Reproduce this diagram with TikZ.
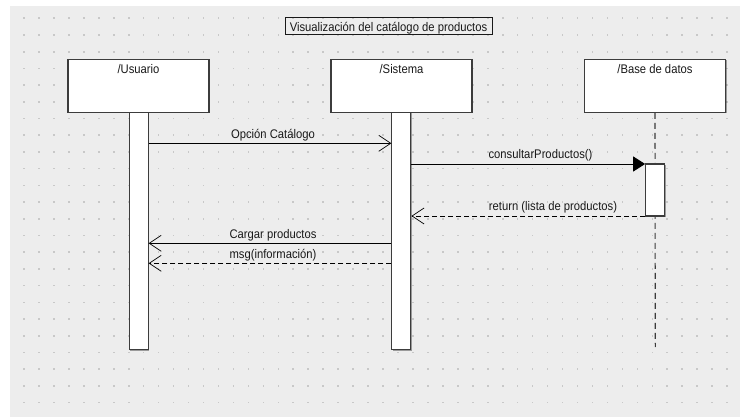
\documentclass[tikz,border=0pt]{standalone}
\usepackage{fontspec}
\setmainfont{Liberation Sans}[FakeStretch=0.9]
\usetikzlibrary{arrows.meta,shadows}

\definecolor{canvas}{RGB}{237,237,237}
\definecolor{griddot}{RGB}{200,200,200}
\definecolor{edge}{RGB}{60,60,60}
\definecolor{ink}{RGB}{25,25,25}

\tikzset{
  every node/.style={font=\fontsize{12.5}{14}\selectfont, text=ink},
  shade box/.style={drop shadow={shadow xshift=1.2pt, shadow yshift=-1.2pt, fill=black, opacity=0.35}},
  lifebox/.style={draw=edge, line width=1.1pt, fill=white, rectangle,
    minimum width=141pt, minimum height=53pt, inner sep=0pt, shade box},
  lifename/.style={anchor=base, inner sep=0pt},
  actbar/.style={draw=edge, line width=1.1pt, fill=white, rectangle,
    minimum width=19pt, inner sep=0pt, shade box},
  titlebox/.style={draw=ink, line width=0.9pt, rectangle, inner xsep=4pt, inner ysep=2.5pt,
    text height=11pt, text depth=1pt, minimum width=207pt},
  lifeline/.style={draw=edge, line width=1.1pt, dash pattern=on 6pt off 4pt},
  syncmsg/.style={draw=black, line width=0.9pt, -{Triangle[length=12pt,width=15pt]}},
  callmsg/.style={draw=black, line width=0.9pt, -{Straight Barb[length=12pt,width=16pt,line width=0.7pt]}},
  replymsg/.style={callmsg, dash pattern=on 5pt off 3pt},
  msglabel/.style={anchor=base, inner sep=0pt},
}

\begin{document}
\begin{tikzpicture}[x=1pt,y=-1pt]
  \useasboundingbox (0,0) rectangle (740,417);
  % sheet and dotted grid
  \fill[white] (0,0) rectangle (740,417);
  \fill[canvas] (10,6) rectangle (740,417);
  \foreach \i in {0,...,47}{
    \foreach \j in {0,...,23}{
      \fill[griddot] ({24+14.96*\i-0.8},{18.3+16.71*\j-0.8}) rectangle ++(1.6,1.6);
    }
  }

  % frame title
  \node[titlebox] (title) at (388.5,26.4) {Visualización del catálogo de productos};

  % participants
  \node[lifebox] (usr) at (138.5,85.8) {};
  \node[lifename] (usrname) at (138.5,74) {/Usuario};
  \node[lifebox] (sys) at (401.5,85.8) {};
  \node[lifename] (sysname) at (401.5,74) {/Sistema};
  \node[lifebox] (db) at (655,85.8) {};
  \node[lifename] (dbname) at (655,74) {/Base de datos};

  % database lifeline
  \coordinate (dbend) at (655.3,347);
  \draw[lifeline] (db.south) -- (dbend);

  % activation bars
  \node[actbar, minimum height=237pt] (usrbar) at (138.6,230.8) {};
  \node[actbar, minimum height=237pt] (sysbar) at (401.4,230.8) {};
  \node[actbar, minimum height=52pt] (dbbar) at (655.2,190) {};

  % message levels
  \coordinate (m1) at (0,143.3);
  \coordinate (m2) at (0,164);
  \coordinate (m3) at (0,216);
  \coordinate (m4) at (0,243.3);
  \coordinate (m5) at (0,263.3);

  % messages
  \draw[callmsg] (usrbar.east |- m1) -- (sysbar.west |- m1);
  \node[msglabel] (l1) at (273,138.3) {Opción Catálogo};

  \draw[syncmsg] (sysbar.east |- m2) -- (dbbar.west |- m2);
  \node[msglabel] (l2) at (540.5,159) {consultarProductos()};

  \draw[replymsg] (dbbar.west |- m3) -- (sysbar.east |- m3);
  \node[msglabel] (l3) at (553,211) {return (lista de productos)};

  \draw[callmsg] (sysbar.west |- m4) -- (usrbar.east |- m4);
  \node[msglabel] (l4) at (273,238.3) {Cargar productos};

  \draw[replymsg] (sysbar.west |- m5) -- (usrbar.east |- m5);
  \node[msglabel] (l5) at (273,258.3) {msg(información)};
\end{tikzpicture}
\end{document}
